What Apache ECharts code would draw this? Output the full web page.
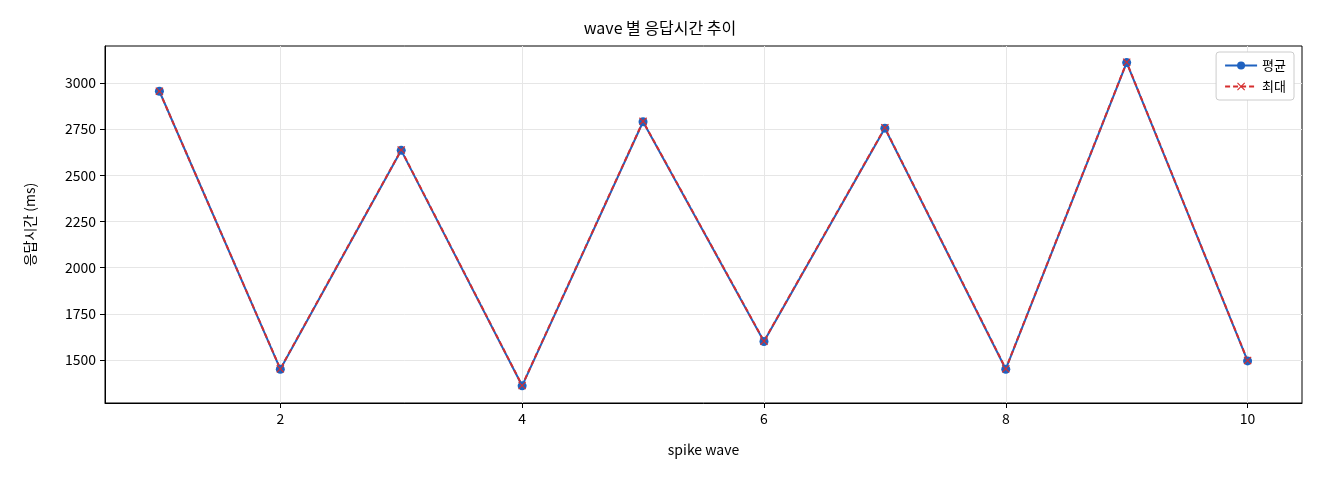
<!DOCTYPE html>
<html><head><meta charset="utf-8">
<script src="https://cdn.jsdelivr.net/npm/echarts@6/dist/echarts.min.js"></script>
<style>html,body{margin:0;background:#fff}#c{width:1320px;height:480px}</style>
</head><body><div id="c"></div>
<script>
const waves = [1,2,3,4,5,6,7,8,9,10];
const avgValues = [2955,1450,2635,1360,2790,1600,2755,1450,3110,1495];
const maxValues = [2955,1452,2637,1362,2792,1602,2757,1452,3112,1497];
const xTicks = [2,4,6,8,10];
const yTicks = [1500,1750,2000,2250,2500,2750,3000];
const F = "'Noto Sans CJK KR', 'Noto Sans', sans-serif";
const chart = echarts.init(document.getElementById('c'));
chart.setOption({
  animation:false,
  textStyle:{fontFamily:F},
  title:{text:'wave 별 응답시간 추이',left:'center',top:15,textStyle:{fontFamily:F,fontSize:16,fontWeight:'normal',color:'#000'}},
  grid:{left:105,right:18,top:46,bottom:77,show:true,borderColor:'#000',borderWidth:1},
  legend:{right:26,top:52,orient:'vertical',itemGap:8,backgroundColor:'#fff',borderColor:'#ccc',borderWidth:1,borderRadius:3,padding:[7,8],
    textStyle:{fontFamily:F,fontSize:13,color:'#000'},itemWidth:32,itemHeight:10,
    data:['평균','최대']},
  xAxis:{type:'value',min:0.55,max:10.45,name:'spike wave',nameLocation:'middle',nameGap:40,
    nameTextStyle:{fontFamily:F,fontSize:14,color:'#000'},
    axisLine:{lineStyle:{color:'#000'}},
    axisTick:{show:true,customValues:xTicks,length:5,lineStyle:{color:'#000'}},
    axisLabel:{customValues:xTicks,fontFamily:F,fontSize:14,color:'#000',margin:9,formatter:v=>String(v)},
    splitLine:{show:true,lineStyle:{color:'#e6e6e6'}}},
  yAxis:{type:'value',min:1267,max:3200,name:'응답시간 (ms)',nameLocation:'middle',nameGap:68,
    nameTextStyle:{fontFamily:F,fontSize:14,color:'#000'},
    axisLine:{show:true,lineStyle:{color:'#000'}},
    axisTick:{show:true,customValues:yTicks,length:5,lineStyle:{color:'#000'}},
    axisLabel:{customValues:yTicks,fontFamily:F,fontSize:14,color:'#000',margin:9,formatter:v=>String(v)},
    splitLine:{show:true,lineStyle:{color:'#e6e6e6'}}},
  series:[
    {name:'평균',type:'line',data:waves.map((w,i)=>[w,avgValues[i]]),symbol:'circle',symbolSize:9,
     lineStyle:{color:'#1f62c0',width:2},itemStyle:{color:'#1f62c0'}},
    {name:'최대',type:'line',data:waves.map((w,i)=>[w,maxValues[i]]),
     symbol:'path://M1,0 L5,4 L9,0 L10,1 L6,5 L10,9 L9,10 L5,6 L1,10 L0,9 L4,5 L0,1 Z',symbolSize:8,
     lineStyle:{color:'#d62e2e',width:2,type:[5,3]},itemStyle:{color:'#d62e2e'}}
  ]
});
</script></body></html>
